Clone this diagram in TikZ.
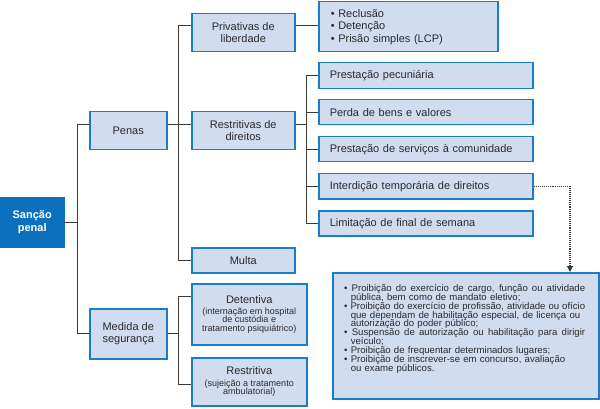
\documentclass[tikz,border=0pt]{standalone}
\usepackage{fontspec}
\setmainfont{Liberation Sans}
\usetikzlibrary{arrows.meta,calc}
\definecolor{bfill}{HTML}{D2DCEF}
\definecolor{bdraw}{HTML}{1A7DC8}
\definecolor{dfill}{HTML}{0C70BE}
\definecolor{lin}{HTML}{3A3A3A}
\definecolor{txt}{HTML}{2A2A2A}
\newcommand{\tightlines}{\lineskiplimit=-20pt\relax\lineskip=0pt\relax}
\newcommand{\subfnt}{\fontsize{9}{8.7}\selectfont\tightlines}
\newcommand{\bigfnt}{\fontsize{9.6}{8.8}\selectfont\tightlines}
\tikzset{
  box/.style={draw=bdraw, fill=bfill, line width=1.5pt, inner sep=0pt, text=txt,
    font=\fontsize{11}{12.5}\selectfont, align=center, anchor=north west},
  lbox/.style={box, align=left, inner xsep=11pt, text width=192pt, minimum height=25pt},
  subbox/.style={box, font=\subfnt},
  darkbox/.style={fill=dfill, draw=dfill, inner sep=0pt, text=white, anchor=north west,
    font=\fontsize{11}{13}\selectfont\bfseries, align=center},
  bigtext/.style={inner sep=0pt, text=txt, align=left, anchor=north west, text width=246pt,
    font=\bigfnt},
  conn/.style={draw=lin, line width=0.9pt},
  dotconn/.style={draw=lin, line width=1.1pt, densely dotted, -{Triangle[width=6pt,length=6pt]}},
}
\newcommand{\jl}[1]{\makebox[241pt][s]{\spaceskip=0.278em plus 3em minus 0.1em\relax #1}}
\newcommand{\ind}{\phantom{\textbullet\ }}
\newcommand{\bigsz}{\fontsize{11}{11}\selectfont}
\begin{document}
\begin{tikzpicture}[x=1pt,y=-1pt]
\useasboundingbox (0,0) rectangle (600,409);
% nodes
\node[darkbox, minimum width=64, minimum height=50] (sancao) at (0,197) {Sanção\\penal};
\node[box, minimum width=77, minimum height=38] (penas) at (89,111) {Penas};
\node[box, minimum width=77, minimum height=50] (medida) at (89,308) {Medida de\\segurança};
\node[box, minimum width=103, minimum height=38] (priv) at (191,13) {Privativas de\\liberdade};
\node[box, minimum width=103, minimum height=38] (restr) at (191,111) {Restritivas de\\direitos};
\node[box, minimum width=103, minimum height=25] (multa) at (191,247) {Multa};
\node[subbox, minimum width=115, minimum height=61] (det) at (191,283)
  {{\bigsz Detentiva}\\[2.5pt] (internação em hospital\\de custódia e\\tratamento psiquiátrico)};
\node[subbox, minimum width=115, minimum height=48] (restv) at (191,357)
  {{\bigsz Restritiva}\\[2.5pt] (sujeição a tratamento\\ambulatorial)};
\node[box, align=left, inner xsep=12pt, text width=155pt, minimum height=50] (bul) at (318,1)
  {\textbullet\ Reclusão\\ \textbullet\ Detenção\\ \textbullet\ Prisão simples (LCP)};
\node[lbox, minimum height=26] (pec) at (318,62) {Prestação pecuniária};
\node[lbox] (perda) at (318,99) {Perda de bens e valores};
\node[lbox] (serv) at (318,136) {Prestação de serviços à comunidade};
\node[lbox] (interd) at (318,173) {Interdição temporária de direitos};
\node[lbox] (lim) at (318,210) {Limitação de final de semana};
\node[box, minimum width=266, minimum height=126] (big) at (332,272) {};
\node[bigtext] (bigtxt) at (344,284.5)
  {\jl{\textbullet\ Proibição do exercício de cargo, função ou atividade}\\
   \ind pública, bem como de mandato eletivo;\\
   \jl{\textbullet\ Proibição do exercício de profissão, atividade ou ofício}\\
   \ind que dependam de habilitação especial, de licença ou\\
   \ind autorização do poder público;\\
   \jl{\textbullet\ Suspensão de autorização ou habilitação para dirigir}\\
   \ind veículo;\\
   \textbullet\ Proibição de frequentar determinados lugares;\\
   \textbullet\ Proibição de inscrever-se em concurso, avaliação\\[1pt]
   \ind ou exame públicos.};
% trunk coordinates
\coordinate (t1) at (77,0);
\coordinate (t2) at (178,0);
\coordinate (t3) at (306,0);
\coordinate (t4) at (570,0);
\coordinate (detc) at ([yshift=17.5pt]det.west);
\coordinate (rvc) at ([yshift=-3pt]restv.west);
\coordinate (privc) at ([yshift=7pt]priv.west);
\coordinate (privr) at ([yshift=7pt]priv.east);
\coordinate (penc) at ([yshift=6pt]penas.west);
\coordinate (penr) at ([yshift=6pt]penas.east);
\coordinate (restl) at ([yshift=6pt]restr.west);
\coordinate (restr2) at ([yshift=6pt]restr.east);
% connectors level 1
\draw[conn] (sancao.east) -- (sancao.east -| t1);
\draw[conn] (penc) -| (t1 |- medida.west) -- (medida.west);
% penas
\draw[conn] (privc) -| (t2 |- multa.west) -- (multa.west);
\draw[conn] (penr) -- (restl);
% medida
\draw[conn] (medida.east) -- (medida.east -| t2);
\draw[conn] (detc) -| (t2 |- rvc) -- (rvc);
% privativas
\draw[conn] (privr) -- (privr -| bul.west);
% restritivas
\draw[conn] (restr2) -- (restr2 -| t3);
\draw[conn] (pec.west) -| (t3 |- lim.west) -- (lim.west);
\draw[conn] (perda.west) -- (perda.west -| t3);
\draw[conn] (serv.west) -- (serv.west -| t3);
\draw[conn] (interd.west) -- (interd.west -| t3);
% dotted
\draw[dotconn] (interd.east) -| (t4 |- big.north);
\end{tikzpicture}
\end{document}
